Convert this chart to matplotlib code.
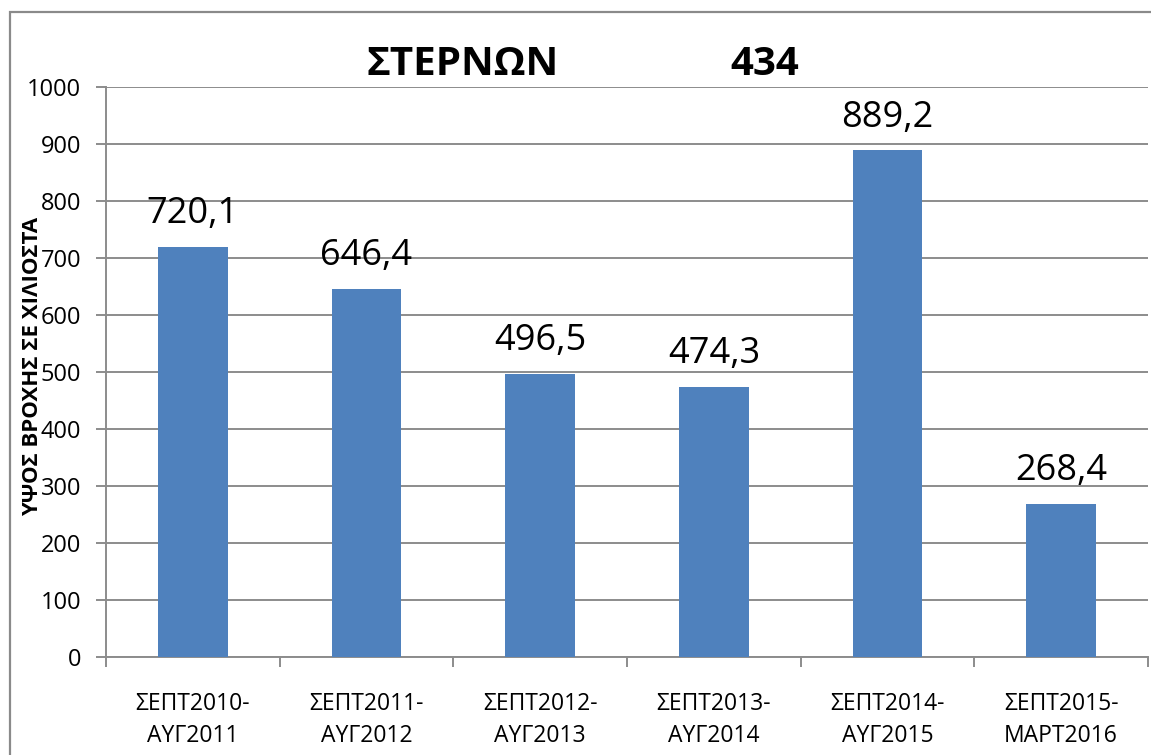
import matplotlib
matplotlib.use('Agg')
import matplotlib.pyplot as plt
from matplotlib.patches import Rectangle
import numpy as np

plt.rcParams['font.family'] = ['Open Sans', 'DejaVu Sans']

# data
periods = ['ΣΕΠΤ2010-\nΑΥΓ2011', 'ΣΕΠΤ2011-\nΑΥΓ2012', 'ΣΕΠΤ2012-\nΑΥΓ2013',
           'ΣΕΠΤ2013-\nΑΥΓ2014', 'ΣΕΠΤ2014-\nΑΥΓ2015', 'ΣΕΠΤ2015-\nΜΑΡΤ2016']
rain_mm = [720.1, 646.4, 496.5, 474.3, 889.2, 268.4]
station = 'ΣΤΕΡΝΩΝ'
station_code = '434'
y_label = 'ΥΨΟΣ ΒΡΟΧΗΣ ΣΕ ΧΙΛΙΟΣΤΑ'

W, H = 1151, 755
fig = plt.figure(figsize=(W / 100, H / 100), dpi=100)
fig.patch.set_facecolor('white')

# outer chart border (cut off at right/bottom like the source)
fig.patches.append(Rectangle((10 / W, -0.1), 1.2, (H - 12) / H + 0.1,
                             transform=fig.transFigure, fill=False,
                             edgecolor='#8a8a8a', linewidth=1.6, zorder=0))

ax = fig.add_axes([106 / W, (H - 657) / H, (1148 - 106) / W, (657 - 87) / H])

x = np.arange(len(rain_mm))
ax.bar(x, rain_mm, width=0.4, color='#4f81bd', zorder=3)

ax.set_xlim(-0.5, len(rain_mm) - 0.5)
ax.set_ylim(0, 1000)
ax.set_yticks(np.arange(0, 1001, 100))
ax.grid(axis='y', color='#8c8c8c', linewidth=1.4, zorder=0)

gray = '#8c8c8c'
for s in ['top', 'right']:
    ax.spines[s].set_visible(False)
for s in ['left', 'bottom']:
    ax.spines[s].set_color(gray)
    ax.spines[s].set_linewidth(1.4)

ax.tick_params(axis='y', length=7, width=1.4, color=gray, labelsize=17, pad=11)
# tick marks between categories, labels under bar centres
ax.set_xticks(np.arange(-0.5, len(rain_mm), 1.0))
ax.set_xticklabels([])
ax.tick_params(axis='x', which='major', length=7, width=1.4, color=gray)
ax.set_xticks(x, minor=True)
ax.set_xticklabels(periods, minor=True, fontsize=16.5, linespacing=1.45)
ax.tick_params(axis='x', which='minor', length=0, pad=25)

for xi, v in zip(x, rain_mm):
    ax.annotate(('%.1f' % v).replace('.', ','), (xi, v), xytext=(0, 17),
                textcoords='offset points', ha='center', va='baseline',
                fontsize=26)

fig.text(463 / W, (H - 75) / H, station, ha='center', va='baseline',
         fontsize=29, fontweight='bold')
fig.text(765 / W, (H - 75) / H, station_code, ha='center', va='baseline',
         fontsize=29, fontweight='bold')
fig.text(33 / W, (H - 366) / H, y_label, rotation=90, ha='center', va='center',
         fontsize=16, fontweight='bold')

fig.savefig('out.png', dpi=100)
